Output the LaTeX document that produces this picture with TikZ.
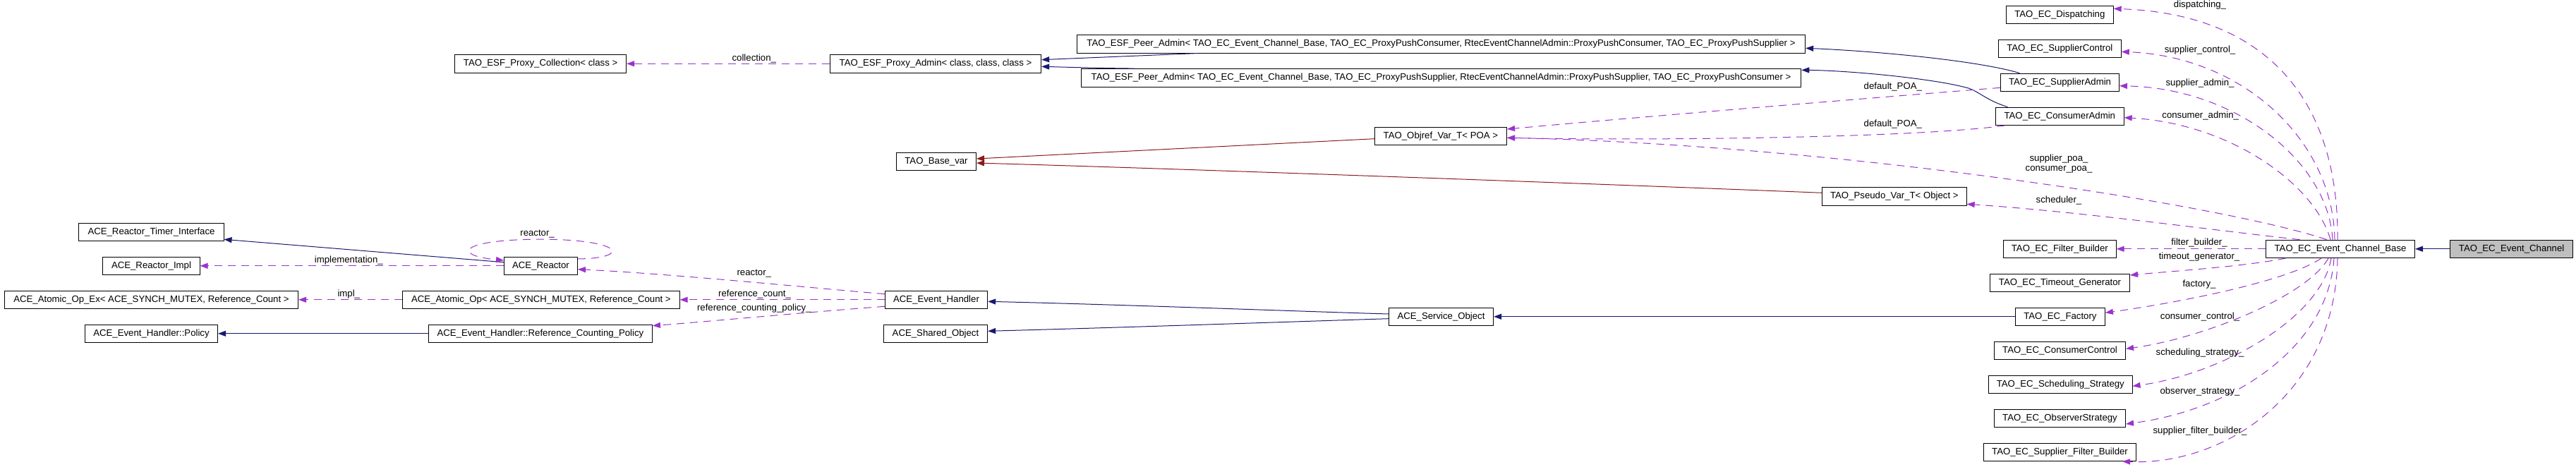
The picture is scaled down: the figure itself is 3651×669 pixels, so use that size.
\documentclass[tikz,border=0pt]{standalone}
\usepackage{fontspec}
\setmainfont{Liberation Sans}
\usetikzlibrary{arrows.meta}
\definecolor{usecol}{HTML}{9A32CD}
\definecolor{pubcol}{HTML}{191970}
\definecolor{privcol}{HTML}{8B1A1A}
\definecolor{fillgray}{HTML}{BFBFBF}
\newcommand\dxfont{\fontsize{13.2}{14.3}\selectfont}
\tikzset{
  cls/.style={draw=black, line width=0.9pt, inner sep=0pt, minimum height=25.5pt, font=\dxfont, anchor=center},
  usage/.style={draw=usecol, line width=1pt, dash pattern=on 11pt off 8pt, -{Triangle[length=11pt,width=8pt]}},
  pubinh/.style={draw=pubcol, line width=1pt, -{Triangle[length=11pt,width=8pt]}},
  privinh/.style={draw=privcol, line width=1pt, -{Triangle[length=11pt,width=8pt]}},
  elabel/.style={font=\dxfont, inner sep=0pt, align=center, text=black},
}
\begin{document}
\begin{tikzpicture}[x=1pt,y=-1pt]
\path[use as bounding box] (0,0) rectangle (3651,669);
% column 1
\node[cls, minimum width=205.2pt] (RTI) at (214.5,328.7) {ACE\_Reactor\_Timer\_Interface};
\node[cls, minimum width=137.2pt] (RImpl) at (214.5,376.8) {ACE\_Reactor\_Impl};
\node[cls, minimum width=416.4pt] (AtomEx) at (214.5,424.8) {ACE\_Atomic\_Op\_Ex< ACE\_SYNCH\_MUTEX, Reference\_Count >};
\node[cls, minimum width=188.2pt] (Policy) at (214.5,472.8) {ACE\_Event\_Handler::Policy};
% column 2
\node[cls, minimum width=243.2pt] (ProxyColl) at (766.1,90.3) {TAO\_ESF\_Proxy\_Collection< class >};
\node[cls, minimum width=104pt] (Reactor) at (766.5,376.8) {ACE\_Reactor};
\node[cls, minimum width=392.6pt] (AtomOp) at (766.9,424.8) {ACE\_Atomic\_Op< ACE\_SYNCH\_MUTEX, Reference\_Count >};
\node[cls, minimum width=317.2pt] (RCP) at (765.9,472.8) {ACE\_Event\_Handler::Reference\_Counting\_Policy};
% column 3
\node[cls, minimum width=299.4pt] (ProxyAdmin) at (1326,90.3) {TAO\_ESF\_Proxy\_Admin< class, class, class >};
\node[cls, minimum width=113.1pt] (BaseVar) at (1327,228.8) {TAO\_Base\_var};
\node[cls, minimum width=145.5pt] (EH) at (1327,424.8) {ACE\_Event\_Handler};
\node[cls, minimum width=147.4pt] (SharedObj) at (1326,472.8) {ACE\_Shared\_Object};
% column 4
\node[cls, minimum width=1032.4pt] (Peer1) at (2042.5,62.3) {TAO\_ESF\_Peer\_Admin< TAO\_EC\_Event\_Channel\_Base, TAO\_EC\_ProxyPushConsumer, RtecEventChannelAdmin::ProxyPushConsumer, TAO\_EC\_ProxyPushSupplier >};
\node[cls, minimum width=1020.6pt] (Peer2) at (2042.5,110.3) {TAO\_ESF\_Peer\_Admin< TAO\_EC\_Event\_Channel\_Base, TAO\_EC\_ProxyPushSupplier, RtecEventChannelAdmin::ProxyPushSupplier, TAO\_EC\_ProxyPushConsumer >};
\node[cls, minimum width=187.4pt] (Objref) at (2041.9,192.8) {TAO\_Objref\_Var\_T< POA >};
\node[cls, minimum width=148.3pt] (SO) at (2042.5,448.8) {ACE\_Service\_Object};
% column 5
\node[cls, minimum width=204.8pt] (Pseudo) at (2684.8,278.3) {TAO\_Pseudo\_Var\_T< Object >};
% column 6
\node[cls, minimum width=151.8pt] (Dispatch) at (2919.3,20.8) {TAO\_EC\_Dispatching};
\node[cls, minimum width=174pt] (SupCtl) at (2919.3,68.8) {TAO\_EC\_SupplierControl};
\node[cls, minimum width=168pt] (SupAdm) at (2919.5,116.8) {TAO\_EC\_SupplierAdmin};
\node[cls, minimum width=181.8pt] (ConAdm) at (2919.3,164.8) {TAO\_EC\_ConsumerAdmin};
\node[cls, minimum width=159.8pt] (FiltB) at (2919.3,352.8) {TAO\_EC\_Filter\_Builder};
\node[cls, minimum width=198.2pt] (TimeG) at (2919.5,400.8) {TAO\_EC\_Timeout\_Generator};
\node[cls, minimum width=127pt] (Factory) at (2919.9,448.8) {TAO\_EC\_Factory};
\node[cls, minimum width=186.2pt] (ConCtl) at (2919.5,496.8) {TAO\_EC\_ConsumerControl};
\node[cls, minimum width=203.6pt] (Sched) at (2920.3,544.8) {TAO\_EC\_Scheduling\_Strategy};
\node[cls, minimum width=186.2pt] (Obs) at (2919.5,592.8) {TAO\_EC\_ObserverStrategy};
\node[cls, minimum width=216.2pt] (SupFB) at (2919.5,640.8) {TAO\_EC\_Supplier\_Filter\_Builder};
% column 7-8
\node[cls, minimum width=211.2pt] (ECBase) at (3317,352.8) {TAO\_EC\_Event\_Channel\_Base};
\node[cls, minimum width=174.2pt, fill=fillgray] (EC) at (3559.6,352.8) {TAO\_EC\_Event\_Channel};

% ---- edges ----
\draw[pubinh] (EC.west) -- (ECBase.east);

\draw[usage] ([xshift=-4pt]ECBase.north) .. controls (3315,150) and (3220,20) .. ([yshift=8.5pt]Dispatch.east);
\draw[usage] ([xshift=-8pt]ECBase.north) .. controls (3307,200) and (3180,80) .. ([yshift=-4.5pt]SupCtl.east);
\draw[usage] ([xshift=-11pt]ECBase.north) .. controls (3300,230) and (3170,125) .. ([yshift=-4.9pt]SupAdm.east);
\draw[usage] ([xshift=-14pt]ECBase.north) .. controls (3280,260) and (3160,175) .. ([yshift=-1.9pt]ConAdm.east);
\draw[usage] ([xshift=86.6pt]ECBase.north west) .. controls (3150,290) and (2600,205) .. ([yshift=-2.5pt]Objref.east);
\draw[usage] ([xshift=48.6pt]ECBase.north west) .. controls (3150,328) and (2950,300) .. ([yshift=-11pt]Pseudo.east);
\draw[usage] (ECBase.west) -- (FiltB.east);
\draw[usage] ([xshift=28.6pt]ECBase.south west) .. controls (3180,378) and (3070,385) .. ([yshift=10.8pt]TimeG.east);
\draw[usage] ([xshift=-27pt]ECBase.south) .. controls (3240,400) and (3080,430) .. ([yshift=5.5pt]Factory.east);
\draw[usage] ([xshift=-17pt]ECBase.south) .. controls (3270,420) and (3120,480) .. ([yshift=2.5pt]ConCtl.east);
\draw[usage] ([xshift=-13pt]ECBase.south) .. controls (3290,450) and (3150,530) .. ([yshift=-2.5pt]Sched.east);
\draw[usage] ([xshift=-9pt]ECBase.south) .. controls (3300,490) and (3170,580) .. ([yshift=-8.2pt]Obs.east);
\draw[usage] ([xshift=-4pt]ECBase.south) .. controls (3310,560) and (3150,660) .. ([xshift=-20pt]SupFB.south east);

\node[elabel] (l1) at (3118,7.3) {dispatching\_};
\node[elabel] (l2) at (3118,70.7) {supplier\_control\_};
\node[elabel] (l3) at (3118,118.3) {supplier\_admin\_};
\node[elabel] (l4) at (3118.7,164.3) {consumer\_admin\_};
\node[elabel] (l5) at (2918,232.2) {supplier\_poa\_\\consumer\_poa\_};
\node[elabel] (l6) at (2918,283.7) {scheduler\_};
\node[elabel] (l7) at (3117,344.3) {filter\_builder\_};
\node[elabel] (l8) at (3117,364.3) {timeout\_generator\_};
\node[elabel] (l9) at (3117,402.7) {factory\_};
\node[elabel] (l10) at (3118,448.7) {consumer\_control\_};
\node[elabel] (l11) at (3118,500.3) {scheduling\_strategy\_};
\node[elabel] (l12) at (3118,555.3) {observer\_strategy\_};
\node[elabel] (l13) at (3118,611.3) {supplier\_filter\_builder\_};

% admins
\draw[pubinh] ([xshift=27.3pt]SupAdm.north west) .. controls (2800,85) and (2650,72) .. ([yshift=-6pt]Peer1.east);
\draw[pubinh] ([xshift=17.4pt]ConAdm.north west) .. controls (2815,142) and (2805,130) .. (2790,125) .. controls (2740,111) and (2620,100) .. ([yshift=11pt]Peer2.east);
\draw[usage] ([yshift=-7.5pt]SupAdm.west) .. controls (2600,143) and (2300,168) .. ([yshift=9.8pt]Objref.east);
\draw[usage] ([xshift=13.4pt]ConAdm.south west) .. controls (2700,197) and (2300,199) .. ([yshift=-2.5pt]Objref.east);
\node[elabel] (l14) at (2682.8,122.7) {default\_POA\_};
\node[elabel] (l15) at (2682.8,176) {default\_POA\_};

% peer admins
\draw[pubinh] ([xshift=172.4pt]Peer1.south west) -- ([yshift=5.6pt]ProxyAdmin.east);
\draw[pubinh] ([xshift=75.5pt]Peer2.north west) .. controls (1560,96.5) .. ([yshift=-4pt]ProxyAdmin.east);
\draw[usage] (ProxyAdmin.west) -- (ProxyColl.east);
\node[elabel] (l16) at (1068.8,82.7) {collection\_};

% base var
\draw[privinh] ([yshift=-3.9pt]Objref.west) -- ([yshift=3.8pt]BaseVar.east);
\draw[privinh] ([yshift=5pt]Pseudo.west) .. controls (2300,262) and (1700,240) .. ([yshift=-2.2pt]BaseVar.east);

% service object
\draw[pubinh] (Factory.west) -- (SO.east);
\draw[pubinh] ([yshift=3.8pt]SO.west) .. controls (1860,442) and (1600,432) .. ([yshift=-2.5pt]EH.east);
\draw[pubinh] ([yshift=-2.9pt]SO.west) .. controls (1860,455) and (1600,464) .. ([yshift=3.5pt]SharedObj.east);

% event handler
\draw[usage] ([yshift=8.1pt]EH.west) .. controls (1150,408) and (950,388) .. ([yshift=-4.9pt]Reactor.east);
\draw[usage] (EH.west) -- (AtomOp.east);
\draw[usage] ([yshift=-9.5pt]EH.west) .. controls (1150,442) and (1000,456) .. ([yshift=11.1pt]RCP.east);
\node[elabel] (l17) at (1068.8,387.7) {reactor\_};
\node[elabel] (l18) at (1069.6,416.7) {reference\_count\_};
\node[elabel] (l19) at (1068.8,436.7) {reference\_counting\_policy\_};

% reactor
\draw[pubinh] ([yshift=5.1pt]Reactor.west) -- ([yshift=-10.6pt]RTI.east);
\draw[usage] (Reactor.west) -- (RImpl.east);
\draw[usage] ([yshift=9.8pt]Reactor.east) .. controls (895,366) and (885,339.5) .. ([yshift=24.5pt]Reactor.north) .. controls (650,339.5) and (640,362) .. ([yshift=7.8pt]Reactor.west);
\node[elabel] (l20) at (761.6,331.7) {reactor\_};
\node[elabel] (l21) at (494.3,368.7) {implementation\_};
\draw[usage] (AtomOp.west) -- (AtomEx.east);
\node[elabel] (l22) at (494.3,416.7) {impl\_};
\draw[pubinh] (RCP.west) -- (Policy.east);
\end{tikzpicture}
\end{document}
